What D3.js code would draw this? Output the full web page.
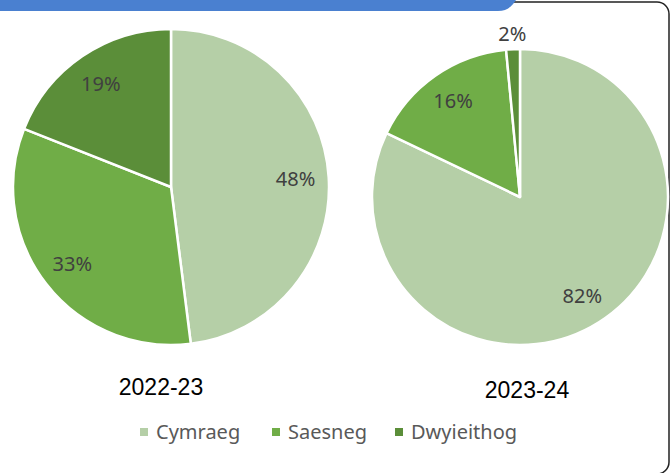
<!DOCTYPE html>
<html>
<head>
<meta charset="utf-8">
<script src="https://cdn.jsdelivr.net/npm/d3@7"></script>
<style>
  html, body { margin: 0; padding: 0; background: #fff; }
  svg { display: block; }
</style>
</head>
<body>
<div id="chart"></div>
<script>
// data
const categories = ['Cymraeg', 'Saesneg', 'Dwyieithog'];
const years = ['2022-23', '2023-24'];
const values2223 = [48, 33, 19];
const values2324 = [82.1, 16.4, 1.5];
const colors = ['#b5cfa7', '#70ad47', '#5b8e39'];

const width = 672, height = 473;

const svg = d3.select('#chart').append('svg')
  .attr('width', width)
  .attr('height', height);

// frame: rounded border at right, blue strip on top
svg.append('rect')
  .attr('x', -10).attr('y', 2)
  .attr('width', 679).attr('height', 472)
  .attr('rx', 12)
  .attr('fill', 'none')
  .attr('stroke', '#222')
  .attr('stroke-width', 1.5);

svg.append('path')
  .attr('d', 'M0,0 H516 C512,6 508,11 498,11 H0 Z')
  .attr('fill', '#4a80d0');

const color = d3.scaleOrdinal().domain(categories).range(colors);

const pie = d3.pie().sort(null).value(d => d.value);

// pies: centre, radius, title position
const pies = [
  { year: years[0], values: values2223, cx: 171, cy: 187, r: 158, tx: 161, ty: 395 },
  { year: years[1], values: values2324, cx: 520, cy: 197, r: 148, tx: 527, ty: 398 }
];

pies.forEach(p => {
  const data = categories.map((c, i) => ({ cat: c, value: p.values[i] }));
  const arcs = pie(data);
  const arc = d3.arc().innerRadius(0).outerRadius(p.r);
  const g = svg.append('g').attr('transform', `translate(${p.cx},${p.cy})`);

  g.selectAll('path')
    .data(arcs)
    .join('path')
    .attr('d', arc)
    .attr('fill', d => color(d.data.cat))
    .attr('stroke', '#fff')
    .attr('stroke-width', 2.5)
    .attr('stroke-linejoin', 'round');

  const total = d3.sum(p.values);
  g.selectAll('text')
    .data(arcs)
    .join('text')
    .attr('transform', d => {
      // tiny slices get their label outside the pie
      const small = (d.endAngle - d.startAngle) < 0.2;
      const rr = small ? p.r * 1.1 : p.r * 0.79;
      const a = (d.startAngle + d.endAngle) / 2;
      return `translate(${Math.sin(a) * rr},${-Math.cos(a) * rr})`;
    })
    .attr('text-anchor', 'middle')
    .attr('dy', '0.35em')
    .style('font', '20px "Noto Sans", sans-serif')
    .attr('fill', '#404040')
    .text(d => Math.round(d.data.value / total * 100) + '%');

  svg.append('text')
    .attr('x', p.tx).attr('y', p.ty)
    .attr('text-anchor', 'middle')
    .style('font', '23px "Liberation Sans", Arial, sans-serif')
    .attr('fill', '#000')
    .text(p.year);
});

// legend
const legendX = [140, 272, 395];
const legend = svg.append('g');
categories.forEach((c, i) => {
  legend.append('rect')
    .attr('x', legendX[i]).attr('y', 428)
    .attr('width', 8).attr('height', 8)
    .attr('fill', color(c));
  legend.append('text')
    .attr('x', legendX[i] + 16).attr('y', 439)
    .style('font', '20px "Noto Sans", sans-serif')
    .attr('fill', '#595959')
    .text(c);
});
</script>
</body>
</html>
